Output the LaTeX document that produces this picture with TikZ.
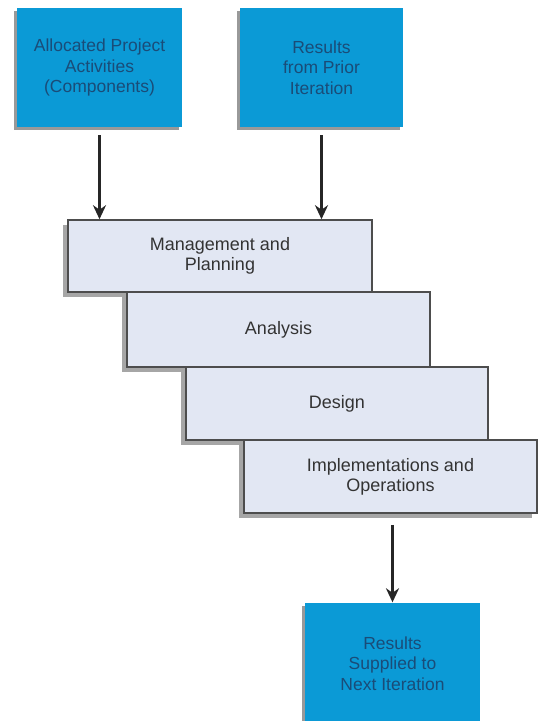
\documentclass[tikz,border=0pt]{standalone}
\usepackage{fontspec}
\setmainfont{Liberation Sans}
\usetikzlibrary{arrows.meta,shadows}
\definecolor{boxblue}{HTML}{0B9AD6}
\definecolor{bluetext}{HTML}{1A4C78}
\definecolor{stepfill}{HTML}{E2E7F3}
\definecolor{stepline}{HTML}{4D4D4D}
\definecolor{steptext}{HTML}{333333}
\begin{document}
\begin{tikzpicture}[x=1pt,y=-1pt,
  bluebox/.style={rectangle, fill=boxblue, text=bluetext, align=center,
    font=\fontsize{17.5}{20.5}\selectfont, inner sep=0pt,
    drop shadow={shadow xshift=-3pt, shadow yshift=-3pt, fill=black, opacity=0.4}},
  stepbox/.style={rectangle, fill=stepfill, draw=stepline, line width=1.6pt,
    text=steptext, align=center, font=\fontsize{18}{20}\selectfont, inner sep=0pt,
    drop shadow={shadow xshift=-5pt, shadow yshift=-5pt, fill=black, opacity=0.35}},
  flow/.style={draw=black!85, line width=2.6pt, -{Stealth[length=14pt,width=13pt]}}]
\useasboundingbox (0,0) rectangle (538,721);
\fill[white] (0,0) rectangle (538,721);

\node[bluebox, minimum width=165pt, minimum height=119pt] (alloc) at (99.5,67.5)
  {Allocated Project\\Activities\\(Components)};
\node[bluebox, minimum width=163pt, minimum height=119pt] (prior) at (321.5,67.5)
  {Results\\from Prior\\Iteration};

\node[stepbox, minimum width=304pt, minimum height=72pt] (mgmt) at (220,256)
  {Management and\\Planning};
\node[stepbox, minimum width=303pt, minimum height=75pt] (anal) at (278.5,329.5)
  {Analysis};
\node[stepbox, minimum width=302pt, minimum height=73pt] (des) at (337,403.5)
  {Design};
\node[stepbox, minimum width=293pt, minimum height=73pt] (impl) at (390.5,476.5)
  {Implementations and\\Operations};

\node[bluebox, minimum width=175pt, minimum height=122pt] (next) at (392.5,663.5)
  {Results\\Supplied to\\Next Iteration};

\draw[flow, shorten <=8pt] (alloc.south) -- (alloc.south |- mgmt.north);
\draw[flow, shorten <=8pt] (prior.south) -- (prior.south |- mgmt.north);
\draw[flow, shorten <=11pt] (next.north |- impl.south) -- (next.north);
\end{tikzpicture}
\end{document}
